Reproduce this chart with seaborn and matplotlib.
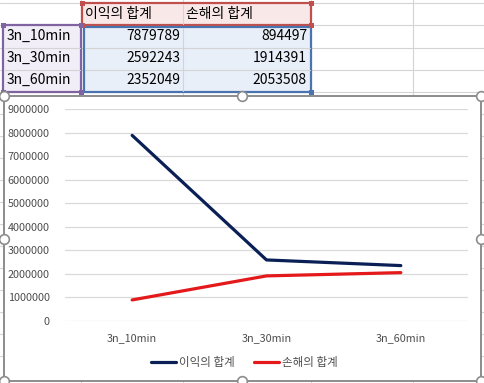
import matplotlib
matplotlib.use('Agg')
import matplotlib.pyplot as plt
from matplotlib.patches import Rectangle
from matplotlib.ticker import MultipleLocator, FuncFormatter
import pandas as pd
import seaborn as sns

# data from the sheet
groups = ['3n_10min', '3n_30min', '3n_60min']
series_names = ['이익의 합계', '손해의 합계']
profit = [7879789, 2592243, 2352049]
loss = [894497, 1914391, 2053508]
colors = ['#0a1f55', '#e3191b']

sns.set_theme(style='white')
plt.rcParams['font.family'] = ['Noto Sans CJK KR', 'DejaVu Sans']

W, H = 484, 383
fig = plt.figure(figsize=(W / 100, H / 100), dpi=100)
fig.patch.set_facecolor('white')

# background "spreadsheet" axes in pixel coords
bg = fig.add_axes([0, 0, 1, 1], zorder=0)
bg.set_xlim(0, W)
bg.set_ylim(H, 0)
bg.axis('off')

grid_c = '#d4d4d4'
row_lines = [3, 25, 47.5, 69.5, 92, 114, 136, 158, 180, 202, 224, 246, 268, 290, 312, 334, 356, 378]
col_lines = [81, 183, 311, 413]
for y in row_lines:
    bg.plot([0, W], [y, y], color=grid_c, lw=0.8, zorder=1)
for x in col_lines:
    bg.plot([x, x], [0, H], color=grid_c, lw=0.8, zorder=1)

# highlighted ranges
bg.add_patch(Rectangle((82, 3), 229, 22, facecolor='#f9e8e8', edgecolor='#c0504d', lw=1.6, zorder=2))
bg.add_patch(Rectangle((3, 25), 78, 67, facecolor='#f1eef7', edgecolor='#8064a2', lw=1.6, zorder=2))
bg.add_patch(Rectangle((84, 27), 227, 65, facecolor='#e9eff8', edgecolor='#4a74b0', lw=1.6, zorder=2))
for y in row_lines[2:4]:
    bg.plot([5, 80], [y, y], color=grid_c, lw=0.8, zorder=2.5)
    bg.plot([85, 310], [y, y], color=grid_c, lw=0.8, zorder=2.5)
bg.plot([183, 183], [4, 24], color=grid_c, lw=0.8, zorder=2.5)
bg.plot([183, 183], [28, 91], color=grid_c, lw=0.8, zorder=2.5)
for (x, y, c) in [(82, 3, '#c0504d'), (311, 3, '#c0504d'), (82, 25, '#c0504d'),
                  (311, 25, '#c0504d'), (3, 25, '#8064a2'), (81, 25, '#8064a2'),
                  (3, 92, '#8064a2'), (81, 92, '#8064a2'), (311, 92, '#4a74b0')]:
    bg.add_patch(Rectangle((x - 2.5, y - 2.5), 5, 5, facecolor=c, edgecolor=c, lw=0, zorder=2.8))

# table text
row_y = [36, 58, 80]
bg.text(85, 14, series_names[0], fontsize=10, va='center', ha='left', color='black', zorder=3)
bg.text(186, 14, series_names[1], fontsize=10, va='center', ha='left', color='black', zorder=3)
for g, p, l, y in zip(groups, profit, loss, row_y):
    bg.text(7, y, g, fontsize=10, va='center', ha='left', color='black', zorder=3)
    bg.text(180, y, str(p), fontsize=10, va='center', ha='right', color='black', zorder=3)
    bg.text(307, y, str(l), fontsize=10, va='center', ha='right', color='black', zorder=3)

# chart frame
bg.add_patch(Rectangle((4, 96), 477, 285, facecolor='white', edgecolor='#8c8c8c', lw=1.4, zorder=4))
for hx, hy in [(4, 96), (242, 96), (481, 96), (4, 239), (481, 239),
               (4, 381), (242, 381), (481, 381)]:
    bg.plot(hx, hy, marker='o', ms=7, mfc='white', mec='#8c8c8c', mew=1.2, zorder=5)

# chart axes
left, right, top, bottom = 65, 468, 109, 321
ax = fig.add_axes([left / W, (H - bottom) / H, (right - left) / W, (bottom - top) / H], zorder=1)
ax.patch.set_alpha(0)

df = pd.DataFrame({
    'group': groups * 2,
    'value': profit + loss,
    'series': [series_names[0]] * 3 + [series_names[1]] * 3,
})
sns.lineplot(data=df, x='group', y='value', hue='series', palette=colors,
             lw=2.3, ax=ax, sort=False)

ax.set_xlim(-0.5, 2.5)
ax.set_ylim(0, 9000000)
ax.yaxis.set_major_locator(MultipleLocator(1000000))
ax.yaxis.set_major_formatter(FuncFormatter(lambda v, _: f'{int(v)}'))
ax.grid(axis='y', color='#d9d9d9', lw=0.9)
ax.set_axisbelow(True)
for s in ax.spines.values():
    s.set_visible(False)
ax.tick_params(axis='both', length=0, labelsize=7.8, colors='#4d4d4d')
ax.tick_params(axis='y', pad=11)
ax.tick_params(axis='x', pad=9)
ax.set_xlabel('')
ax.set_ylabel('')

sns.move_legend(ax, 'center', bbox_to_anchor=(0.445, -0.198), ncol=2, frameon=False,
                title=None, fontsize=8.3, handlelength=2.2, handletextpad=0.25,
                columnspacing=1.6, labelcolor='#4d4d4d')

fig.savefig('out.png', dpi=100)
